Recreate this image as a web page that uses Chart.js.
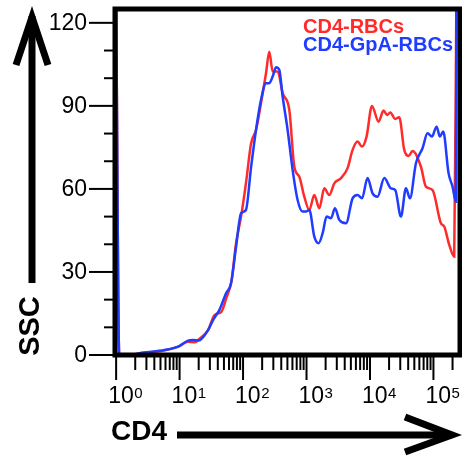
<!DOCTYPE html>
<html>
<head>
<meta charset="utf-8">
<script src="https://cdn.jsdelivr.net/npm/chart.js@4"></script>
<style>
body { margin: 0; background: #fff; }
</style>
</head>
<body>
<canvas id="chart" width="462" height="457"></canvas>
<script>
// CD4 histogram overlay, SSC vs CD4 (log)
var redCD4 = [1, 1.12, 1.6, 2.66, 5.2, 9.5, 13.6, 17.3, 20.5, 28.1, 35.7, 45.5, 54.6, 65.5, 77.6, 93, 111, 134, 160, 192,
  230, 259, 293, 351, 421, 536, 643, 771, 923, 1107, 1327, 1591, 1906, 2286, 2740, 3494, 4436, 5321, 6383, 7486,
  8835, 10740, 13650, 16370, 18530, 20890, 25030, 28910, 34670, 40530, 46880, 63550, 76200, 96800, 131200, 147900, 177400, 212600, 230000];
var redSSC = [130, 0, 0, 0.8, 1.4, 3.0, 4.8, 4.6, 5.8, 9.0, 14.5, 15.6, 20.6, 26.5, 40.4, 50, 62, 76.5, 81.3, 91,
  101.8, 109.6, 102.4, 102.4, 94.6, 88.5, 68, 64.4, 57.2, 52.4, 57.8, 53, 60.2, 57.8, 62, 63.9, 67.5, 74.1, 77.1, 75.3,
  78.9, 90, 84.3, 88.3, 86.7, 87.6, 85.3, 85.9, 74.1, 71.9, 73.7, 68, 60.8, 59.6, 47.6, 46.4, 39.8, 35.5, 130];

var blueCD4 = [1, 1.12, 1.6, 2.66, 5.8, 9.5, 13.6, 16.3, 20, 28.1, 33.7, 42.4, 54, 64.7, 77.6, 93, 111, 134, 160, 192, 230,
  259, 293, 331, 373, 421, 504, 604, 724, 868, 982, 1107, 1327, 1552, 1794, 2074, 2432, 2810, 3287, 4192, 5321,
  6383, 7486, 9162, 10990, 13180, 16800, 21410, 25030, 30760, 36880, 42660, 53000, 67300, 80700, 94700,
  112000, 126600, 142600, 173000, 200000, 226000, 230000];
var blueSSC = [130, 0, 0, 0.8, 1.8, 3.0, 5.2, 5.4, 5.2, 9.0, 12.6, 16.3, 22.3, 25.9, 39.1, 51.2, 52.4, 68, 81.3, 92.2, 98.2,
  98.2, 100.6, 104, 103, 93.3, 81.3, 66.9, 56, 51.8, 51.8, 52.4, 42.8, 40.4, 44, 50, 49.4, 53, 48.8, 47.6, 56.6,
  57.8, 56.6, 63.9, 58.4, 57.2, 63.9, 60.2, 59.6, 50, 60.2, 56.6, 69.3, 74.7, 80.1, 78.9,
  82.5, 78.9, 80.7, 65.7, 60.8, 55.4, 130];

var seriesNames = ['CD4-RBCs', 'CD4-GpA-RBCs'];
var seriesColors = ['#ff2b2b', '#1f3cff'];
var yTicks = [0, 30, 60, 90, 120];
var xDecades = [1, 10, 100, 1000, 10000, 100000];

function pairs(xs, ys) {
  return xs.map(function (x, i) { return { x: x, y: ys[i] }; });
}

var decor = {
  id: 'decor',
  afterDatasetsDraw: function (chart) {
    var c = chart.ctx, a = chart.chartArea;
    var xs = chart.scales.x, ys = chart.scales.y;
    c.save();
    c.strokeStyle = '#000';
    c.fillStyle = '#000';

    // frame
    c.lineWidth = 5;
    c.strokeRect(a.left, a.top, a.right - a.left, a.bottom - a.top);

    // y ticks + labels
    c.lineWidth = 2;
    c.font = '23px "Liberation Sans", Arial, sans-serif';
    c.textAlign = 'right';
    c.textBaseline = 'middle';
    for (var v = 0; v <= yTicks[yTicks.length - 1]; v += 10) {
      var py = ys.getPixelForValue(v);
      var major = yTicks.indexOf(v) >= 0;
      var len = major ? 24 : 9;
      c.beginPath();
      c.moveTo(a.left - 2 - len, py);
      c.lineTo(a.left, py);
      c.stroke();
      if (major) c.fillText(String(v), a.left - 28, py + 1);
    }

    // x ticks + labels
    c.textAlign = 'left';
    c.textBaseline = 'alphabetic';
    xDecades.forEach(function (d) {
      for (var m = 1; m <= 9; m++) {
        var val = d * m;
        if (val > xs.max) break;
        var px = xs.getPixelForValue(val);
        var len = m === 1 ? 23 : 13;
        c.beginPath();
        c.moveTo(px, a.bottom);
        c.lineTo(px, a.bottom + 2 + len);
        c.stroke();
      }
      var px0 = xs.getPixelForValue(d);
      var e = String(Math.round(Math.log10(d)));
      c.font = '23px "Liberation Sans", Arial, sans-serif';
      c.fillText('10', px0 - 8, 403);
      var w = c.measureText('10').width;
      c.font = '15px "Liberation Sans", Arial, sans-serif';
      c.fillText(e, px0 - 8 + w + 0.5, 398);
    });

    // axis titles
    c.font = 'bold 29px "Liberation Sans", Arial, sans-serif';
    c.save();
    c.translate(31, 326);
    c.rotate(-Math.PI / 2);
    c.textAlign = 'center';
    c.textBaseline = 'middle';
    c.fillText('SSC', 0, 0);
    c.restore();
    c.font = 'bold 28px "Liberation Sans", Arial, sans-serif';
    c.textAlign = 'left';
    c.textBaseline = 'middle';
    c.fillText('CD4', 111, 432);

    // arrows
    c.lineWidth = 7;
    c.lineJoin = 'miter';
    c.lineCap = 'butt';
    c.beginPath();
    c.moveTo(32, 283);
    c.lineTo(32, 16);
    c.stroke();
    c.beginPath();
    c.moveTo(16, 65);
    c.lineTo(32, 17);
    c.lineTo(48, 65);
    c.stroke();

    c.beginPath();
    c.moveTo(177, 435);
    c.lineTo(452, 435);
    c.stroke();
    c.beginPath();
    c.moveTo(405, 417);
    c.lineTo(452, 435);
    c.lineTo(405, 452);
    c.stroke();

    // legend
    c.font = 'bold 20px "Liberation Sans", Arial, sans-serif';
    c.textAlign = 'left';
    c.textBaseline = 'alphabetic';
    c.fillStyle = seriesColors[0];
    c.fillText(seriesNames[0], 303, 33);
    c.fillStyle = seriesColors[1];
    c.fillText(seriesNames[1], 303, 51);
    c.restore();
  }
};

var ctx = document.getElementById('chart').getContext('2d');
var chart = new Chart(ctx, {
  type: 'line',
  data: {
    datasets: [{
      label: seriesNames[0],
      data: pairs(redCD4, redSSC),
      borderColor: seriesColors[0],
      borderWidth: 2.5,
      pointRadius: 0,
      cubicInterpolationMode: 'monotone',
      order: 1
    }, {
      label: seriesNames[1],
      data: pairs(blueCD4, blueSSC),
      borderColor: seriesColors[1],
      borderWidth: 2.5,
      pointRadius: 0,
      cubicInterpolationMode: 'monotone',
      order: 0
    }]
  },
  options: {
    responsive: false,
    animation: false,
    layout: { padding: { left: 115, right: 2, top: 9, bottom: 102 } },
    plugins: { legend: { display: false }, tooltip: { enabled: false } },
    scales: {
      x: { type: 'logarithmic', min: 0.96, max: 262144, display: false },
      y: { type: 'linear', min: 0, max: 125, display: false }
    }
  },
  plugins: [decor]
});
</script>
</body>
</html>
